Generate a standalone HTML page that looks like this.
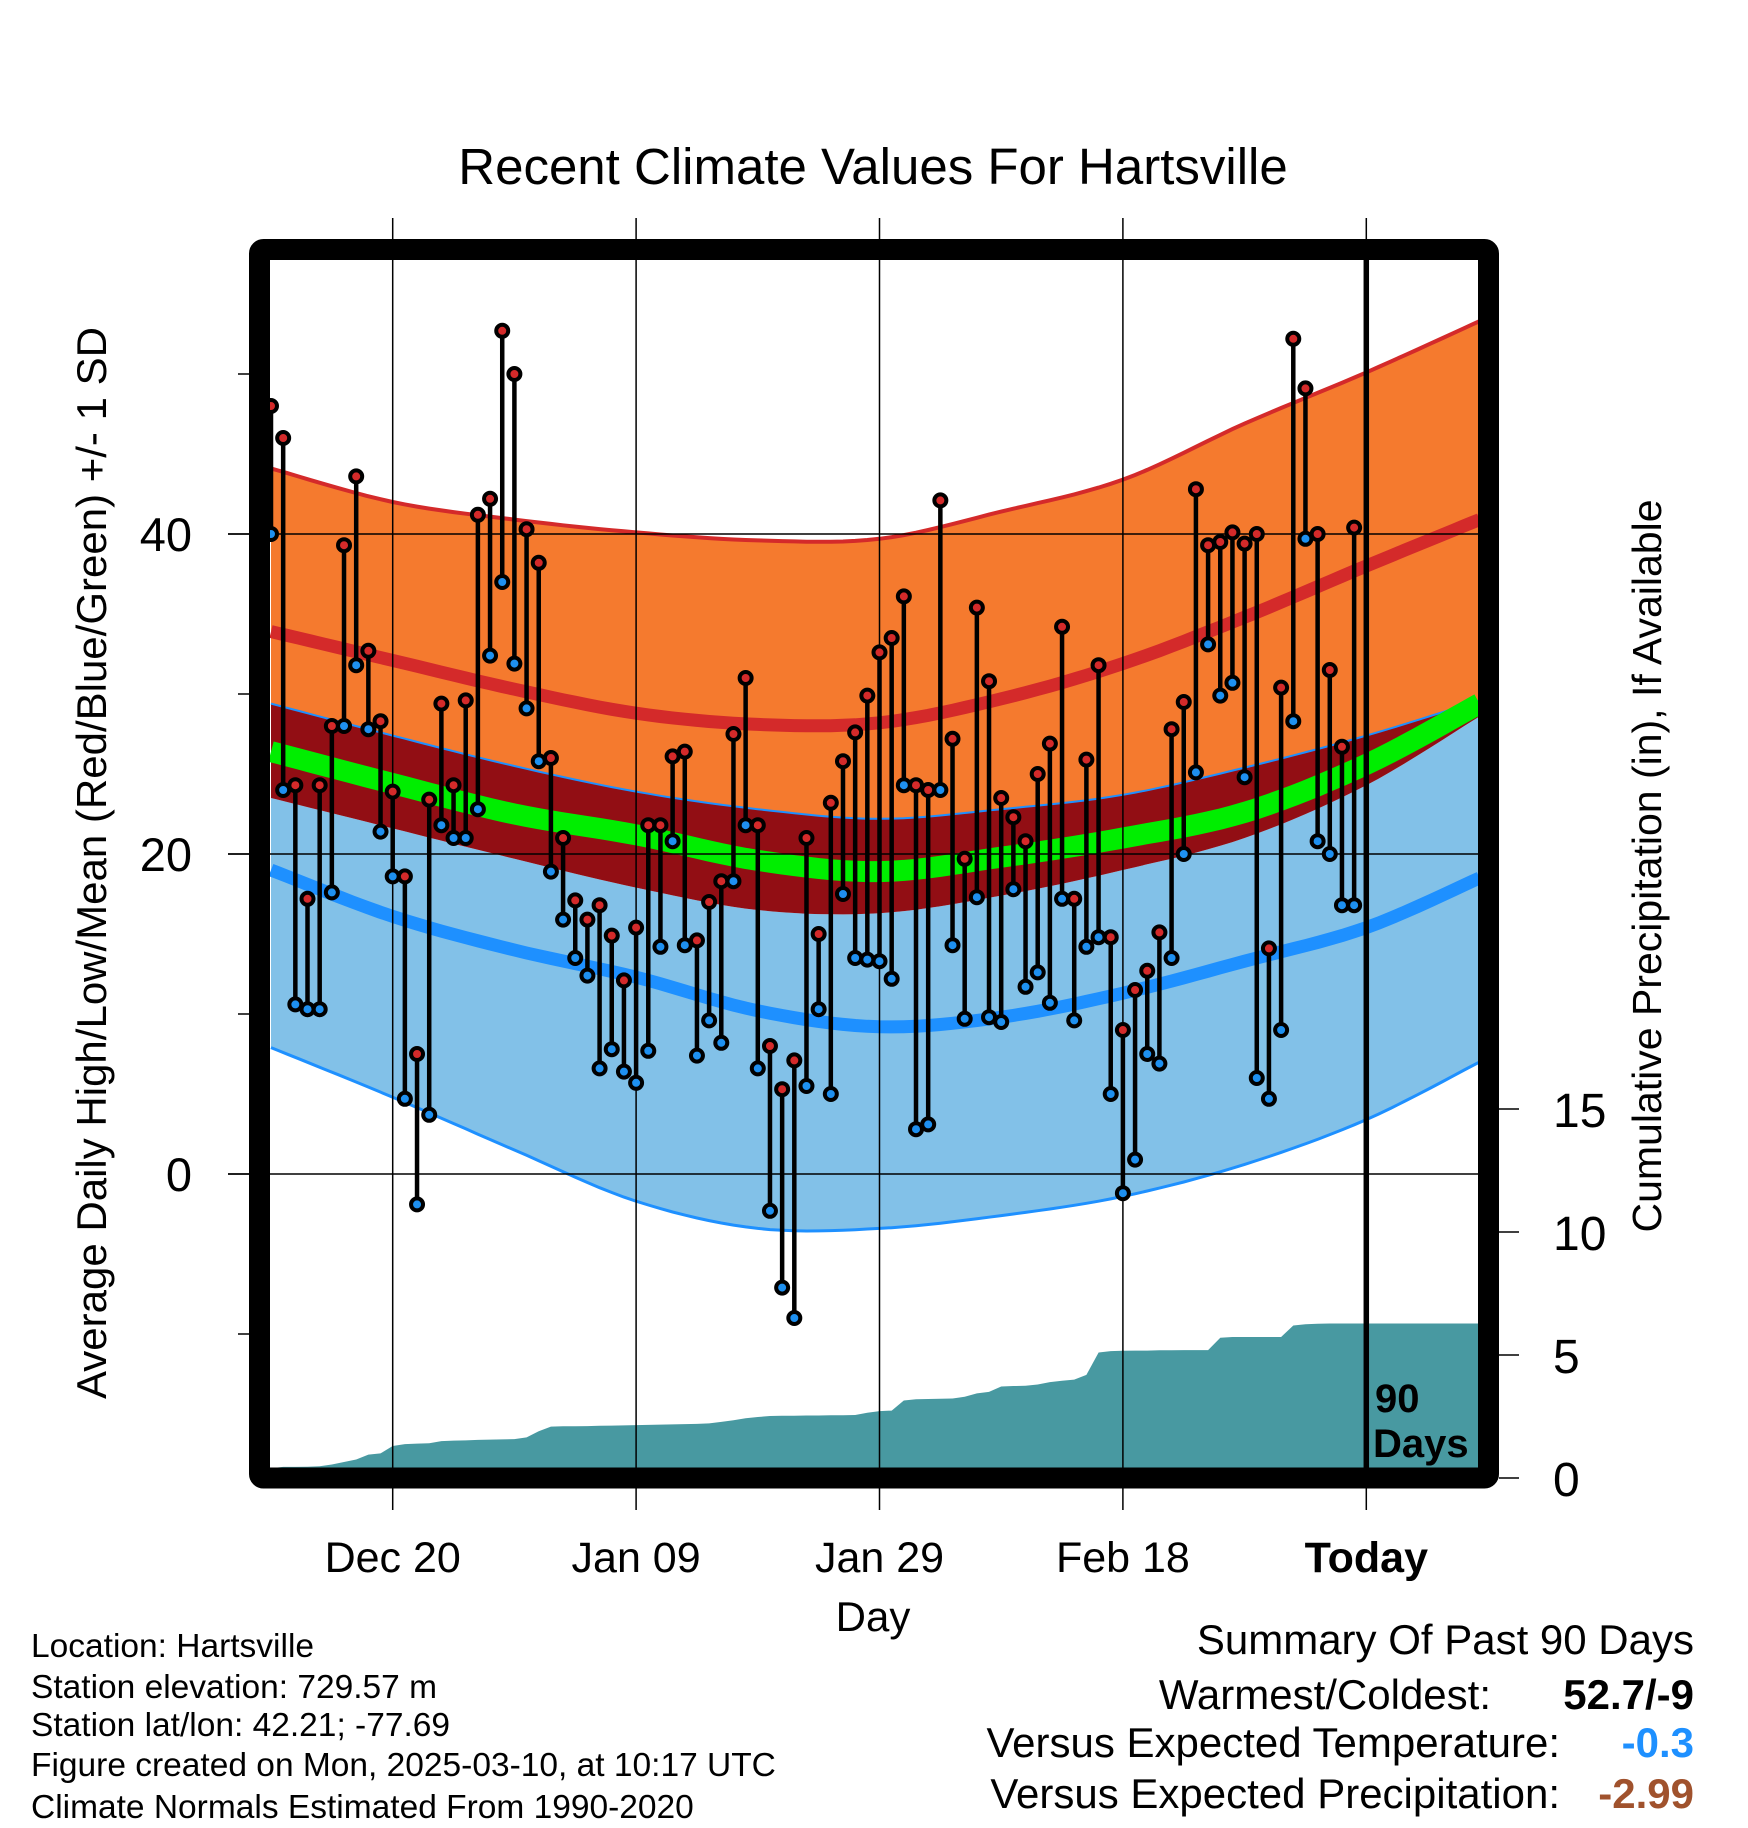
<!DOCTYPE html>
<html><head><meta charset="utf-8"><style>
html,body{margin:0;padding:0;background:#fff;}
svg{display:block;font-family:"Liberation Sans",Arial,sans-serif;}
</style></head><body>
<svg id="chart" width="1748" height="1828" viewBox="0 0 1748 1828" xmlns="http://www.w3.org/2000/svg">
<defs><clipPath id="plotclip"><rect x="270" y="260" width="1208" height="1208"/></clipPath></defs>
<text x="873" y="184" font-size="51" text-anchor="middle">Recent Climate Values For Hartsville</text>
<g id="fills" clip-path="url(#plotclip)"></g>
<g id="grid"></g>
<g id="marks" clip-path="url(#plotclip)"></g>
<g id="frame"></g>
<g id="axes"></g>
<text transform="translate(106,863) rotate(-90)" font-size="42" text-anchor="middle">Average Daily High/Low/Mean (Red/Blue/Green) +/- 1 SD</text>
<text transform="translate(1661,866) rotate(-90)" font-size="41" text-anchor="middle">Cumulative Precipitation (in), If Available</text>
<text x="873" y="1631" font-size="42" text-anchor="middle">Day</text>
<g font-size="33.5">
<text x="31" y="1657">Location: Hartsville</text>
<text x="31" y="1698">Station elevation: 729.57 m</text>
<text x="31" y="1736">Station lat/lon: 42.21; -77.69</text>
<text x="31" y="1776">Figure created on Mon, 2025-03-10, at 10:17 UTC</text>
<text x="31" y="1818">Climate Normals Estimated From 1990-2020</text>
</g>
<g font-size="42">
<text x="1694" y="1654" text-anchor="end">Summary Of Past 90 Days</text>
<text x="1491" y="1709" text-anchor="end">Warmest/Coldest:</text>
<text x="1694" y="1709" text-anchor="end" font-weight="bold">52.7/-9</text>
<text x="1560" y="1757" text-anchor="end">Versus Expected Temperature:</text>
<text x="1694" y="1757" text-anchor="end" font-weight="bold" fill="#1e90ff">-0.3</text>
<text x="1560" y="1808" text-anchor="end">Versus Expected Precipitation:</text>
<text x="1694" y="1808" text-anchor="end" font-weight="bold" fill="#a0522d">-2.99</text>
</g>
</svg>
<script>
// ---- data ----
var highs = [48.0,46.0,24.3,17.2,24.3,28.0,39.3,43.6,32.7,28.3,23.9,18.6,7.5,23.4,29.4,24.3,29.6,41.2,42.2,52.7,50.0,40.3,38.2,26.0,21.0,17.1,15.9,16.8,14.9,12.1,15.4,21.8,21.8,26.1,26.4,14.6,17.0,18.3,27.5,31.0,21.8,8.0,5.3,7.1,21.0,15.0,23.2,25.8,27.6,29.9,32.6,33.5,36.1,24.3,24.0,42.1,27.2,19.7,35.4,30.8,23.5,22.3,20.8,25.0,26.9,34.2,17.2,25.9,31.8,14.8,9.0,11.5,12.7,15.1,27.8,29.5,42.8,39.3,39.5,40.1,39.4,40.0,14.1,30.4,52.2,49.1,40.0,31.5,26.7,40.4];
var lows = [40.0,24.0,10.6,10.3,10.3,17.6,28.0,31.8,27.8,21.4,18.6,4.7,-1.9,3.7,21.8,21.0,21.0,22.8,32.4,37.0,31.9,29.1,25.8,18.9,15.9,13.5,12.4,6.6,7.8,6.4,5.7,7.7,14.2,20.8,14.3,7.4,9.6,8.2,18.3,21.8,6.6,-2.3,-7.1,-9.0,5.5,10.3,5.0,17.5,13.5,13.4,13.3,12.2,24.3,2.8,3.1,24.0,14.3,9.7,17.3,9.8,9.5,17.8,11.7,12.6,10.7,17.2,9.6,14.2,14.8,5.0,-1.2,0.9,7.5,6.9,13.5,20.0,25.1,33.1,29.9,30.7,24.8,6.0,4.7,9.0,28.3,39.7,20.8,20.0,16.8,16.8];
var precip = [0.40,0.45,0.45,0.46,0.48,0.55,0.65,0.75,0.95,1.00,1.30,1.38,1.40,1.41,1.50,1.52,1.53,1.55,1.56,1.57,1.58,1.65,1.90,2.09,2.10,2.10,2.11,2.12,2.13,2.14,2.15,2.16,2.17,2.18,2.19,2.20,2.22,2.28,2.35,2.43,2.48,2.52,2.53,2.53,2.54,2.54,2.55,2.55,2.56,2.65,2.72,2.74,3.15,3.20,3.21,3.22,3.23,3.30,3.44,3.50,3.72,3.74,3.75,3.80,3.90,3.95,4.00,4.19,5.10,5.16,5.17,5.18,5.18,5.19,5.19,5.20,5.20,5.20,5.70,5.73,5.73,5.73,5.73,5.73,6.20,6.25,6.27,6.28,6.28,6.28];
var normDays = [0,10,20,30,40,50,60,70,80,90,99.3];
var highPlusSD = [44.1,42.0,40.9,40.1,39.6,39.7,41.4,43.4,46.9,50.1,53.3];
var highMean = [33.9,32.1,30.3,28.8,28.1,28.2,29.7,31.9,34.8,38.0,40.9];
var highMinusSD = [29.4,27.4,25.5,23.9,22.8,22.2,22.8,23.7,25.4,27.4,29.6];
var meanNorm = [26.4,24.4,22.5,21.2,19.6,18.9,19.8,21.0,22.6,25.6,29.4];
var lowPlusSD = [23.5,21.6,19.7,17.9,16.5,16.3,17.4,19.0,21.0,24.3,28.6];
var lowMean = [19.0,16.1,14.0,12.3,10.2,9.2,9.8,11.3,13.3,15.4,18.5];
var lowMinusSD = [7.9,4.8,1.5,-1.7,-3.4,-3.4,-2.6,-1.4,0.6,3.4,7.0];
var xTickDays = [10,30,50,70,90];
var xTickLabels = ["Dec 20","Jan 09","Jan 29","Feb 18","Today"];
var yTicks = [-10,0,10,20,30,40,50];
var yLabeled = [0,20,40];
var pTicks = [0,5,10,15];

// ---- scales ----
function X(d){return 271 + 12.17*d;}
function Y(t){return 1174 - 16*t;}
function P(p){return 1478 - 24.6*p;}
var NS="http://www.w3.org/2000/svg";
function mk(tag, parent, attrs){var e=document.createElementNS(NS,tag);for(var k in attrs)e.setAttribute(k,attrs[k]);parent.appendChild(e);return e;}
function curvePts(vals){
  var pts=[];for(var i=0;i<normDays.length;i++)pts.push([X(normDays[i]),Y(vals[i])]);
  var out=[];
  for(var i=0;i<pts.length-1;i++){
    var p0=pts[Math.max(0,i-1)],p1=pts[i],p2=pts[i+1],p3=pts[Math.min(pts.length-1,i+2)];
    for(var s=0;s<10;s++){var t=s/10,t2=t*t,t3=t2*t;
      out.push([0.5*((2*p1[0])+(-p0[0]+p2[0])*t+(2*p0[0]-5*p1[0]+4*p2[0]-p3[0])*t2+(-p0[0]+3*p1[0]-3*p2[0]+p3[0])*t3),
                0.5*((2*p1[1])+(-p0[1]+p2[1])*t+(2*p0[1]-5*p1[1]+4*p2[1]-p3[1])*t2+(-p0[1]+3*p1[1]-3*p2[1]+p3[1])*t3)]);}
  }
  out.push(pts[pts.length-1]);return out;
}
function ptsStr(a){return a.map(function(p){return p[0].toFixed(1)+","+p[1].toFixed(1);}).join(" ");}
function band(top,bot){return ptsStr(curvePts(top).concat(curvePts(bot).reverse()));}

var fills=document.getElementById("fills");
var e;
e=mk("polygon",fills,{points:band(highPlusSD,highMinusSD),fill:"#f57a2e"});


e=mk("polygon",fills,{points:band(lowPlusSD,lowMinusSD),fill:"#82c1e8"});


e=mk("polygon",fills,{points:band(highMinusSD,lowPlusSD),fill:"#920e14"});


e=mk("polyline",fills,{points:ptsStr(curvePts(highMinusSD)),fill:"none",stroke:"#1e90ff","stroke-width":2});


e=mk("polyline",fills,{points:ptsStr(curvePts(meanNorm)),fill:"none",stroke:"#00ee00","stroke-width":21});


e=mk("polyline",fills,{points:ptsStr(curvePts(highMean)),fill:"none",stroke:"#d42a2a","stroke-width":13});


e=mk("polyline",fills,{points:ptsStr(curvePts(lowMean)),fill:"none",stroke:"#1e90ff","stroke-width":13});


e=mk("polyline",fills,{points:ptsStr(curvePts(highPlusSD)),fill:"none",stroke:"#d42a2a","stroke-width":4});


e=mk("polyline",fills,{points:ptsStr(curvePts(lowMinusSD)),fill:"none",stroke:"#1e90ff","stroke-width":3});


// precip area
var pp=[[X(0),P(0)]];
for(var i=0;i<precip.length;i++){pp.push([X(i),P(precip[i])]);}
pp.push([X(99.3),P(precip[precip.length-1])]);pp.push([X(99.3),P(0)]);
e=mk("polygon",fills,{points:ptsStr(pp),fill:"#4899a1"});



// grid
var grid=document.getElementById("grid");
for(var i=0;i<xTickDays.length;i++){
  e=mk("line",grid,{x1:X(xTickDays[i]),x2:X(xTickDays[i]),y1:218,y2:1510,stroke:"#000","stroke-width":1.5});
  
  
}
for(var i=0;i<yLabeled.length;i++){
  e=mk("line",grid,{x1:228,x2:1478,y1:Y(yLabeled[i]),y2:Y(yLabeled[i]),stroke:"#000","stroke-width":1.5});
  
  
}

// stems & markers
var marks=document.getElementById("marks");
for(var i=0;i<highs.length;i++){
  e=mk("line",marks,{x1:X(i),x2:X(i),y1:Y(highs[i]),y2:Y(lows[i]),stroke:"#000","stroke-width":4.5});
  
  
}
for(var i=0;i<highs.length;i++){
  e=mk("circle",marks,{cx:X(i),cy:Y(lows[i]),r:6,fill:"#1e90f0",stroke:"#000","stroke-width":4});
  
  
  e=mk("circle",marks,{cx:X(i),cy:Y(highs[i]),r:6,fill:"#d42a2a",stroke:"#000","stroke-width":4});
  
  
}
// today line
e=mk("line",marks,{x1:X(90),x2:X(90),y1:260,y2:1468,stroke:"#000","stroke-width":5.5});


e=mk("text",marks,{x:1375,y:1412,"font-size":40,"font-weight":"bold"});e.textContent="90";


e=mk("text",marks,{x:1373,y:1457,"font-size":40,"font-weight":"bold"});e.textContent="Days";



// frame
var frame=document.getElementById("frame");
e=mk("rect",frame,{x:259.5,y:249.5,width:1229,height:1228.5,rx:4,fill:"none",stroke:"#000","stroke-width":21});



// axes
var axes=document.getElementById("axes");
for(var i=0;i<yTicks.length;i++){
  var lab=yLabeled.indexOf(yTicks[i])>=0;
  e=mk("line",axes,{x1:lab?228:238,x2:249,y1:Y(yTicks[i]),y2:Y(yTicks[i]),stroke:"#000","stroke-width":1.5});
  
  
  if(lab){
    e=mk("text",axes,{x:192,y:Y(yTicks[i])+17,"font-size":47,"text-anchor":"end"});e.textContent=String(yTicks[i]);
    
    
  }
}
for(var i=0;i<pTicks.length;i++){
  e=mk("line",axes,{x1:1499,x2:1519,y1:P(pTicks[i]),y2:P(pTicks[i]),stroke:"#000","stroke-width":1.5});
  
  
  e=mk("text",axes,{x:1553,y:P(pTicks[i])+18,"font-size":48});e.textContent=String(pTicks[i]);
  
  
}
for(var i=0;i<xTickDays.length;i++){
  e=mk("text",axes,{x:X(xTickDays[i]),y:1572,"font-size":43,"text-anchor":"middle","font-weight":xTickLabels[i]==="Today"?"bold":"normal"});
  e.textContent=xTickLabels[i];
  
  
}
</script>
</body></html>
